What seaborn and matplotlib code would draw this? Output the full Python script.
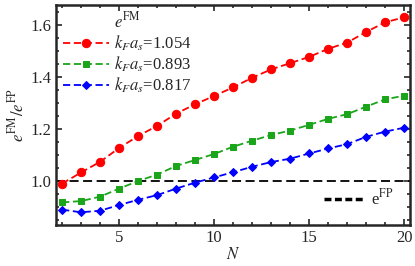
import numpy as np
import pandas as pd
import matplotlib
matplotlib.use('Agg')
import matplotlib.pyplot as plt
from matplotlib.lines import Line2D
from matplotlib.ticker import MultipleLocator
import seaborn as sns

N = list(range(2, 21))
ratio_1054 = [0.989, 1.032, 1.073, 1.126, 1.172, 1.211, 1.258, 1.294, 1.326, 1.359,
              1.396, 1.428, 1.452, 1.476, 1.507, 1.531, 1.572, 1.609, 1.628]
ratio_0893 = [0.917, 0.922, 0.939, 0.970, 0.999, 1.024, 1.057, 1.080, 1.103, 1.131,
              1.154, 1.176, 1.193, 1.215, 1.238, 1.256, 1.285, 1.313, 1.327]
ratio_0817 = [0.889, 0.879, 0.885, 0.907, 0.927, 0.945, 0.970, 0.993, 1.013, 1.033,
              1.054, 1.072, 1.085, 1.105, 1.124, 1.141, 1.169, 1.189, 1.204]
labels = ['$k_F a_s$=1.054', '$k_F a_s$=0.893', '$k_F a_s$=0.817']

sns.set_style('ticks')
plt.rcParams['font.family'] = ['Liberation Serif', 'DejaVu Serif']
plt.rcParams['mathtext.fontset'] = 'stix'

fig = plt.figure(figsize=(4.15, 2.66), dpi=100)
ax = fig.add_axes([0.135, 0.154, 0.853, 0.827])

ax.axhline(1.0, color='black', ls='--', lw=1.3, dashes=(5, 2.5), zorder=1)

series = [(ratio_1054, 'red', 'o', 6),
          (ratio_0893, '#1aa51a', 's', 4.8),
          (ratio_0817, 'blue', 'D', 4.2)]
for (vals, col, mk, ms), lab in zip(series, labels):
    sns.lineplot(x=N, y=vals, ax=ax, color=col, marker=mk, markersize=ms,
                 markeredgecolor=col, lw=1.3, dashes=False, label=lab)
    ax.lines[-1].set_linestyle((0, (4, 2)))

ax.set_xlim(1.68, 20.3)
ax.set_ylim(0.83, 1.675)
ax.xaxis.set_major_locator(MultipleLocator(5))
ax.xaxis.set_minor_locator(MultipleLocator(1))
ax.yaxis.set_major_locator(MultipleLocator(0.2))
ax.yaxis.set_minor_locator(MultipleLocator(0.05))
ax.yaxis.set_major_formatter(matplotlib.ticker.FormatStrFormatter('%.1f'))
ax.tick_params(which='both', direction='in', top=True, right=True, labelsize=12, width=1.2)
ax.tick_params(which='major', length=4)
ax.tick_params(which='minor', length=2.5)
for sp in ax.spines.values():
    sp.set_linewidth(1.8)

ax.set_xlabel('$N$', fontsize=12, labelpad=1)
ax.set_ylabel(r'$e^{\rm FM}/e^{\rm FP}$', fontsize=12, labelpad=2)

handles, labs = ax.get_legend_handles_labels()
leg1 = ax.legend(handles, labs, title=r'$e^{\rm FM}$', loc='upper left', frameon=False,
                 fontsize=12, title_fontsize=12, handlelength=2.8, handletextpad=0.3,
                 labelspacing=0.1, borderaxespad=0.2, borderpad=0.2)
ax.add_artist(leg1)
fp_handle = Line2D([], [], color='black', ls='--', lw=2.5, dashes=(2, 1))
ax.legend([fp_handle], [r'e$^{\rm FP}$'], loc='lower right', frameon=False, fontsize=12,
          handlelength=2.3, handletextpad=0.5, borderaxespad=0.6)

fig.savefig('out.png', dpi=100)
